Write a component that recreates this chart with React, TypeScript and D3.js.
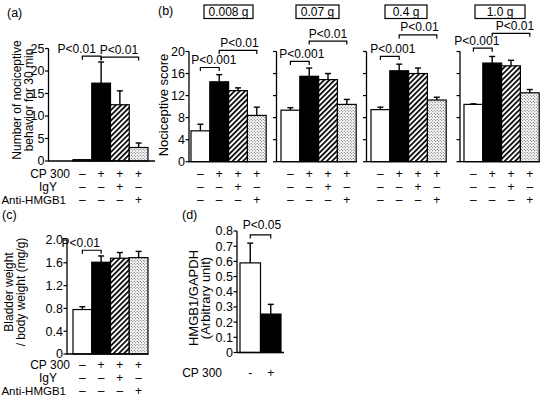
import * as d3 from 'd3';

const FONT = "'Liberation Sans', Arial, Helvetica, sans-serif";

// treatment rows under panels a, b, c
const rowLabels = ['CP 300', 'IgY', 'Anti-HMGB1'];
const rowSigns = [
  ['–', '+', '+', '+'],
  ['–', '–', '+', '–'],
  ['–', '–', '–', '+'],
];
const barFills = ['#fff', '#000', 'url(#hatch)', 'url(#dots)'];

// (a) number of nociceptive behaviors
const aMeans = [0.3, 17.3, 12.5, 3.0];
const aErrs = [0, 4.7, 3.1, 1.0];
const aTicks = [0, 5, 10, 15, 20, 25];

// (b) nociceptive score per dose
const doses = ['0.008 g', '0.07 g', '0.4 g', '1.0 g'];
const bMeans = [
  [5.6, 14.5, 12.9, 8.4],
  [9.35, 15.5, 14.9, 10.4],
  [9.45, 16.5, 16.0, 11.2],
  [10.4, 17.9, 17.4, 12.5],
];
const bErrs = [
  [1.2, 1.3, 0.5, 1.5],
  [0.45, 1.5, 1.1, 0.9],
  [0.45, 1.2, 1.0, 0.5],
  [0.1, 1.2, 1.0, 0.6],
];
const bTicks = [0, 4, 8, 12, 16, 20];

// (c) bladder weight / body weight
const cMeans = [0.78, 1.61, 1.68, 1.69];
const cErrs = [0.05, 0.11, 0.1, 0.11];
const cTicks = [0, 0.4, 0.8, 1.2, 1.6, 2.0];

// (d) HMGB1 / GAPDH
const dSigns = ['-', '+'];
const dMeans = [0.59, 0.253];
const dErrs = [0.13, 0.064];
const dTicks = [0, 0.1, 0.2, 0.3, 0.4, 0.5, 0.6, 0.7, 0.8];

// significance brackets: bar indices, height in data units, text
const aBrackets = [
  { from: 0, to: 1, y: 23.3, text: 'P<0.01', dx: -15 },
  { from: 1, to: 3, y: 23.1, text: 'P<0.01', dx: -1 },
];
const bBrackets = [
  [
    { from: 0, to: 1, y: 17.1, text: 'P<0.001', dx: 4 },
    { from: 1, to: 3, y: 20.2, text: 'P<0.01', dx: 1.5 },
  ],
  [
    { from: 0, to: 1, y: 18.2, text: 'P<0.001', dx: 2 },
    { from: 1, to: 3, y: 21.9, text: 'P<0.01', dx: 0 },
  ],
  [
    { from: 0, to: 1, y: 19.1, text: 'P<0.001', dx: 3 },
    { from: 1, to: 3, y: 23.0, text: 'P<0.01', dx: 1.5 },
  ],
  [
    { from: 0, to: 1, y: 20.6, text: 'P<0.001', dx: -6 },
    { from: 1, to: 3, y: 23.3, text: 'P<0.01', dx: 4 },
  ],
];
const cBrackets = [{ from: 0, to: 1, y: 1.82, text: 'P<0.01', dx: -11 }];
const dBrackets = [{ from: 0, to: 1, y: 0.774, text: 'P<0.05', dx: 1.5, gap: 5.5 }];

// layout of the four sub panels of (b)
const bBarStart = [191, 281, 371, 464];
const bAxisX = [189, 276.5, 366.5, 460];
const bBoxes = [
  { cx: 228.5, w: 49 },
  { cx: 317.5, w: 43 },
  { cx: 406, w: 42 },
  { cx: 500, w: 50 },
];

const fmtDec = (v: number) => (v === 0 ? '0' : v.toFixed(1));
const fmtInt = (v: number) => String(v);

interface PanelProps {
  id: string;
  axisX: number;
  axisEnd: number;
  barRange: [number, number];
  yRange: [number, number];
  yMax: number;
  ticks: number[];
  fmt: ((v: number) => string) | null;
  means: number[];
  errs: number[];
  fills: string[];
  brackets: any[];
}

const Panel = (p: PanelProps) => {
  const x = d3.scaleBand<number>().domain(d3.range(p.means.length)).range(p.barRange).padding(0);
  const y = d3.scaleLinear().domain([0, p.yMax]).range(p.yRange);
  const bw = x.bandwidth();
  const cx = (i: number) => (x(i) as number) + bw / 2;
  return (
    <g>
      {p.means.map((m, i) => (
        <rect key={`b${i}`} x={x(i)} y={y(m)} width={bw} height={y(0) - y(m)}
          fill={p.fills[i]} stroke="#000" strokeWidth={1.2} />
      ))}
      {p.means.map((m, i) =>
        p.errs[i] > 0 ? (
          <g key={`e${i}`} stroke="#000" strokeWidth={1.4}>
            <line x1={cx(i)} x2={cx(i)} y1={y(m)} y2={y(m + p.errs[i])} />
            <line x1={cx(i) - 3} x2={cx(i) + 3} y1={y(m + p.errs[i])} y2={y(m + p.errs[i])} />
          </g>
        ) : null
      )}
      <line x1={p.axisX} x2={p.axisX} y1={y(0) + 0.6} y2={y(p.yMax)} stroke="#000" strokeWidth={1.3} />
      <line x1={p.axisX} x2={p.axisEnd} y1={y(0)} y2={y(0)} stroke="#000" strokeWidth={1.3} />
      {p.ticks.map((t) => (
        <g key={`t${t}`}>
          <line x1={p.axisX - 3.5} x2={p.axisX} y1={y(t)} y2={y(t)} stroke="#000" strokeWidth={1.2} />
          {p.fmt ? (
            <text x={p.axisX - 4} y={y(t)} dy="0.35em" textAnchor="end" fontSize={12.5}>
              {p.fmt(t)}
            </text>
          ) : null}
        </g>
      ))}
      {p.brackets.map((b, k) => {
        const x1 = cx(b.from);
        const x2 = cx(b.to);
        const yy = y(b.y);
        return (
          <g key={`s${k}`}>
            <path d={`M${x1},${yy + 3.5}V${yy}H${x2}V${yy + 3.5}`} fill="none" stroke="#000" strokeWidth={1.2} />
            <text x={(x1 + x2) / 2 + b.dx} y={yy - (b.gap ?? 3.5)} textAnchor="middle" fontSize={12}>
              {b.text}
            </text>
          </g>
        );
      })}
    </g>
  );
};

const SignRows = ({ barRange, rows, ys }: { barRange: [number, number]; rows: string[][]; ys: number[] }) => {
  const x = d3.scaleBand<number>().domain(d3.range(rows[0].length)).range(barRange);
  return (
    <g>
      {rows.map((r, j) =>
        r.map((s, i) => (
          <text key={`${j}-${i}`} x={(x(i) as number) + x.bandwidth() / 2} y={ys[j]} textAnchor="middle" fontSize={12}>
            {s}
          </text>
        ))
      )}
    </g>
  );
};

const RowLabels = ({ ys }: { ys: number[] }) => {
  const ends = [70, 57, 66];
  const sizes = [12, 12, 11.5];
  return (
    <g>
      {rowLabels.map((l, j) => (
        <text key={l} x={ends[j]} y={ys[j]} textAnchor="end" fontSize={sizes[j]}>
          {l}
        </text>
      ))}
    </g>
  );
};

const YLabel = ({ x, y, text, size = 12 }: { x: number; y: number; text: string; size?: number }) => (
  <text transform={`translate(${x},${y}) rotate(-90)`} textAnchor="middle" fontSize={size}>
    {text}
  </text>
);

export default function App() {
  const rowsTop = [178, 191, 204];
  const rowsBottom = [368.5, 381.5, 394.5];
  return (
    <svg width={540} height={397} style={{ position: 'absolute', left: 0, top: 0, background: '#fff' }}
      fontFamily={FONT}>
      <defs>
        <pattern id="hatch" patternUnits="userSpaceOnUse" width={3.7} height={3.7} patternTransform="rotate(45)">
          <rect width={3.7} height={3.7} fill="#fff" />
          <line x1={0.9} y1={0} x2={0.9} y2={3.7} stroke="#000" strokeWidth={1.7} />
        </pattern>
        <pattern id="dots" patternUnits="userSpaceOnUse" width={3} height={3}>
          <rect width={3} height={3} fill="#fff" />
          <circle cx={0.75} cy={0.75} r={0.6} fill="#444" />
          <circle cx={2.25} cy={2.25} r={0.6} fill="#444" />
        </pattern>
      </defs>

      {/* (a) */}
      <text x={7} y={17} fontSize={12.5}>(a)</text>
      <YLabel x={21} y={100} text="Number of nociceptive" />
      <YLabel x={32.5} y={100} text="behavior for 30 min" />
      <Panel id="a" axisX={48.5} axisEnd={155} barRange={[73, 148]} yRange={[161, 48.5]} yMax={25}
        ticks={aTicks} fmt={fmtInt} means={aMeans} errs={aErrs} fills={barFills} brackets={aBrackets} />
      <RowLabels ys={rowsTop} />
      <SignRows barRange={[73, 148]} rows={rowSigns} ys={rowsTop} />

      {/* (b) */}
      <text x={158} y={15} fontSize={12.5}>(b)</text>
      <YLabel x={168} y={105} text="Nociceptive score" size={13} />
      {doses.map((d, k) => (
        <g key={d}>
          <rect x={bBoxes[k].cx - bBoxes[k].w / 2} y={5} width={bBoxes[k].w} height={13.5}
            fill="#fff" stroke="#000" strokeWidth={1.2} />
          <text x={bBoxes[k].cx} y={16} textAnchor="middle" fontSize={12}>{d}</text>
          <Panel id={`b${k}`} axisX={bAxisX[k]} axisEnd={bBarStart[k] + 76} barRange={[bBarStart[k], bBarStart[k] + 75.2]}
            yRange={[161.7, 51.5]} yMax={20} ticks={bTicks} fmt={k === 0 ? fmtInt : null}
            means={bMeans[k]} errs={bErrs[k]} fills={barFills} brackets={bBrackets[k]} />
          <SignRows barRange={[bBarStart[k], bBarStart[k] + 75.2]} rows={rowSigns} ys={rowsTop} />
        </g>
      ))}

      {/* (c) */}
      <text x={2} y={219} fontSize={12.5}>(c)</text>
      <YLabel x={13} y={292} text="Bladder weight" />
      <YLabel x={25} y={292} text="/ body weight (mg/g)" />
      <Panel id="c" axisX={67} axisEnd={148.5} barRange={[73, 148]} yRange={[354, 240]} yMax={2}
        ticks={cTicks} fmt={fmtDec} means={cMeans} errs={cErrs} fills={barFills} brackets={cBrackets} />
      <RowLabels ys={rowsBottom} />
      <SignRows barRange={[73, 148]} rows={rowSigns} ys={rowsBottom} />

      {/* (d) */}
      <text x={182} y={219} fontSize={12.5}>(d)</text>
      <YLabel x={198} y={298} text="HMGB1/GAPDH" size={13} />
      <YLabel x={209.5} y={298} text="(Arbitrary unit)" size={13} />
      <Panel id="d" axisX={237} axisEnd={284} barRange={[240, 281]} yRange={[352.5, 231]} yMax={0.8}
        ticks={dTicks} fmt={fmtDec} means={dMeans} errs={dErrs} fills={['#fff', '#000']} brackets={dBrackets} />
      <text x={222} y={377} textAnchor="end" fontSize={12}>CP 300</text>
      <SignRows barRange={[240, 281]} rows={[dSigns]} ys={[377]} />
    </svg>
  );
}
